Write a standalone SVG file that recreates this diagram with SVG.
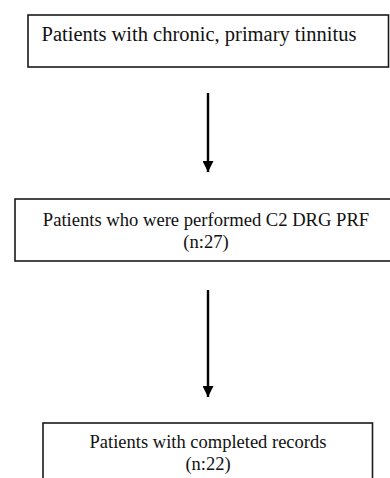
<svg xmlns="http://www.w3.org/2000/svg" width="390" height="478" viewBox="0 0 390 478">
<style>
.box{fill:#fff;stroke:#1a1a1a;stroke-width:1.6}
.t{font-family:"Liberation Serif","Times New Roman",serif;fill:#111}
.conn{stroke:#000;stroke-width:2.4;fill:none}
</style>
<defs>
<marker id="ah" markerUnits="userSpaceOnUse" markerWidth="11" markerHeight="11" viewBox="0 0 10 10" refX="10" refY="5" orient="auto">
<path d="M0,0 L10,5 L0,10 Z" fill="#000"/>
</marker>
</defs>
<rect width="390" height="478" fill="#fff"/>
<g id="node1">
<rect class="box" x="28" y="15" width="360.5" height="52"/>
<text class="t" x="41.5" y="41" font-size="20.5">Patients with chronic, primary tinnitus</text>
</g>
<g id="node2">
<rect class="box" x="15" y="199" width="390" height="62"/>
<text class="t" x="206" y="226" font-size="18.6" text-anchor="middle">Patients who were performed C2 DRG PRF</text>
<text class="t" x="206" y="248" font-size="18.6" text-anchor="middle">(n:27)</text>
</g>
<g id="node3">
<rect class="box" x="43" y="423" width="329.5" height="70"/>
<text class="t" x="208" y="448" font-size="18.5" text-anchor="middle">Patients with completed records</text>
<text class="t" x="208" y="470" font-size="18.5" text-anchor="middle">(n:22)</text>
</g>
<g id="connectors">
<line class="conn" x1="208" y1="93" x2="208" y2="172" marker-end="url(#ah)"/>
<line class="conn" x1="208" y1="290" x2="208" y2="397" marker-end="url(#ah)"/>
</g>
</svg>
